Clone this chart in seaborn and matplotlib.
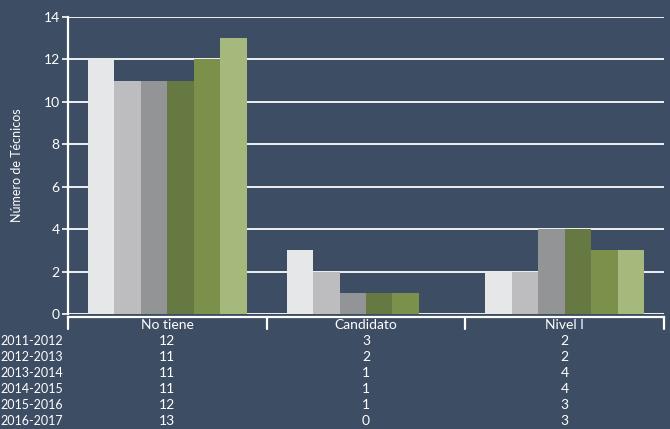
import matplotlib
matplotlib.use("Agg")
import matplotlib.pyplot as plt
import seaborn as sns
import pandas as pd

categories = ["No tiene", "Candidato", "Nivel I"]
periods = ["2011-2012", "2012-2013", "2013-2014", "2014-2015", "2015-2016", "2016-2017"]
v_2011 = [12, 3, 2]
v_2012 = [11, 2, 2]
v_2013 = [11, 1, 4]
v_2014 = [11, 1, 4]
v_2015 = [12, 1, 3]
v_2016 = [13, 0, 3]
series = [v_2011, v_2012, v_2013, v_2014, v_2015, v_2016]
colors = ["#e6e7e9", "#bcbdc1", "#939496", "#6a8239", "#7f9c3f", "#a8c373"]
yticks = [0, 2, 4, 6, 8, 10, 12, 14]

bg = "#3d4d63"
fg = "#ffffff"
fs = 10

sns.set_theme(style="white")
plt.rcParams["font.family"] = ["Lato", "DejaVu Sans"]

rows = []
for p, vals in zip(periods, series):
    for c, v in zip(categories, vals):
        rows.append({"cat": c, "period": p, "value": v})
df = pd.DataFrame(rows)

fig = plt.figure(figsize=(6.7, 4.29), dpi=100, facecolor=bg)
ax = fig.add_axes([68 / 670, 115 / 429, (664 - 68) / 670, (314 - 17) / 429])
ax.set_facecolor(bg)

ax.yaxis.grid(True, color="#eef0f3", linewidth=1.4, zorder=0)
ax.set_axisbelow(True)
sns.barplot(data=df, x="cat", y="value", hue="period", hue_order=periods,
            order=categories, palette=colors, width=0.8, ax=ax,
            edgecolor="none", linewidth=0, legend=False, zorder=3)

ax.set_xlim(-0.5, 2.5)
ax.set_ylim(0, 14)
ax.set_yticks(yticks)
ax.set_yticklabels([str(t) for t in yticks], color=fg, fontsize=fs)
ax.tick_params(axis="y", length=4, color=fg, width=1.2, pad=2, left=True)
ax.tick_params(axis="x", bottom=False, labelbottom=False)
ax.set_xlabel("")
ax.set_ylabel("Número de Técnicos", color=fg, fontsize=9, labelpad=15)

for s in ["top", "right"]:
    ax.spines[s].set_visible(False)
for s in ["left", "bottom"]:
    ax.spines[s].set_color(fg)
    ax.spines[s].set_linewidth(1.6)
ax.spines["bottom"].set_position(("outward", 2))

# table separators
for xb in [-0.5, 0.5, 1.5, 2.5]:
    ax.plot([xb, xb], [-0.01, -0.05], transform=ax.get_xaxis_transform(),
            color=fg, linewidth=1.6, clip_on=False)

ppx = 1.0 / (314 - 17)  # axes fraction per pixel (vertical)
cat_y = 325
row_ys = [341, 357, 373, 389, 405, 421]
tr = ax.get_xaxis_transform()
for i, c in enumerate(categories):
    ax.text(i, -(cat_y - 314) * ppx, c, transform=tr, ha="center", va="center",
            color=fg, fontsize=fs)
for p, vals, yy in zip(periods, series, row_ys):
    yf = -(yy - 314) * ppx
    ax.text(-0.5 - 5 / 199, yf, p, transform=tr, ha="right", va="center",
            color=fg, fontsize=9)
    for i, v in enumerate(vals):
        ax.text(i, yf, str(v), transform=tr, ha="center", va="center",
                color=fg, fontsize=fs)

fig.savefig("out.png", dpi=100, facecolor=bg)
